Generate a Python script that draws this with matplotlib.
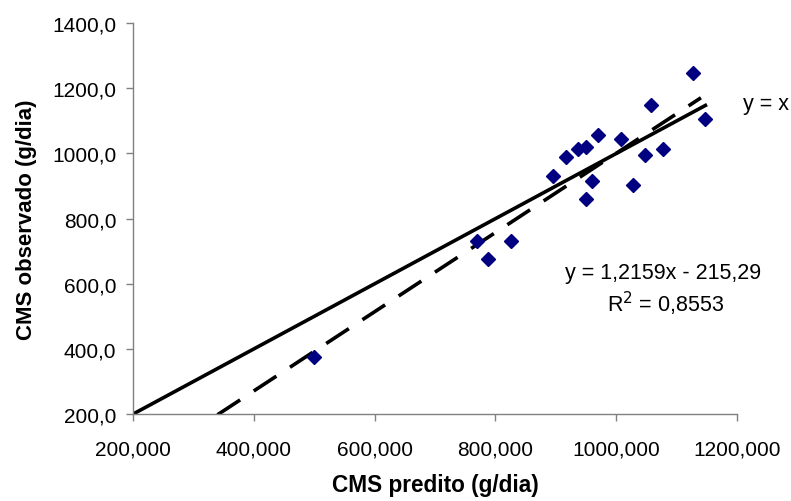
import matplotlib
matplotlib.use("Agg")
import matplotlib.pyplot as plt
import numpy as np
from matplotlib.ticker import FuncFormatter, FixedLocator

plt.rcParams['font.family'] = ['Liberation Sans', 'DejaVu Sans']

# Data
predito = [500, 769, 787, 826, 896, 916, 936, 950, 969, 950, 960, 1028, 1008, 1048, 1078, 1058, 1127, 1147]
observado = [375, 731, 675, 731, 930, 988, 1013, 1019, 1056, 860, 915, 902, 1043, 995, 1013, 1148, 1246, 1105]

slope = 1.2159
intercept = -215.29
r2 = 0.8553

identity_range = [200, 1150]
trend_range = [340, 1140]

xticks = [200, 400, 600, 800, 1000, 1200]
yticks = [200, 400, 600, 800, 1000, 1200, 1400]

fig = plt.figure(figsize=(7.91, 5.02), dpi=100)
ax = fig.add_axes([0.168, 0.173, 0.764, 0.779])

# y = x line
ident = np.array(identity_range)
ax.plot(ident, ident, color='black', lw=2.6, solid_capstyle='butt', zorder=2)

# regression line (dashed)
xr = np.array(trend_range)
ax.plot(xr, slope * xr + intercept, color='black', lw=2.6, dashes=(7.5, 4.5),
        dash_capstyle='butt', zorder=2)

ax.plot(predito, observado, linestyle='none', marker='D', markersize=7.5,
        color='#000080', markeredgecolor='#000080', zorder=3, clip_on=False)

ax.set_xlim(200, 1200)
ax.set_ylim(200, 1400)
ax.xaxis.set_major_locator(FixedLocator(xticks))
ax.yaxis.set_major_locator(FixedLocator(yticks))
ax.xaxis.set_major_formatter(FuncFormatter(lambda v, p: f"{int(v)},000"))
ax.yaxis.set_major_formatter(FuncFormatter(lambda v, p: f"{int(v)},0"))

for s in ['top', 'right']:
    ax.spines[s].set_visible(False)
for s in ['left', 'bottom']:
    ax.spines[s].set_color('#808080')
    ax.spines[s].set_linewidth(1.0)
ax.tick_params(direction='out', length=5, width=1, color='#808080', labelsize=15)
ax.tick_params(axis='y', pad=7)
ax.tick_params(axis='x', pad=13)

ax.set_xlabel('CMS predito (g/dia)', fontsize=16.3, fontweight='bold', labelpad=11)
ax.set_ylabel('CMS observado (g/dia)', fontsize=16, fontweight='bold', labelpad=11)

ax.text(1247, 1154, 'y = x', fontsize=15.5, ha='center', va='center', clip_on=False)
ax.text(1077, 634, 'y = 1,2159x - 215,29', fontsize=15.5, ha='center', va='center')
ax.text(1081, 541, f'R$^2$ = {r2:.4f}'.replace('.', ','), fontsize=15.5, ha='center', va='center')

fig.savefig('out.png', dpi=100)
